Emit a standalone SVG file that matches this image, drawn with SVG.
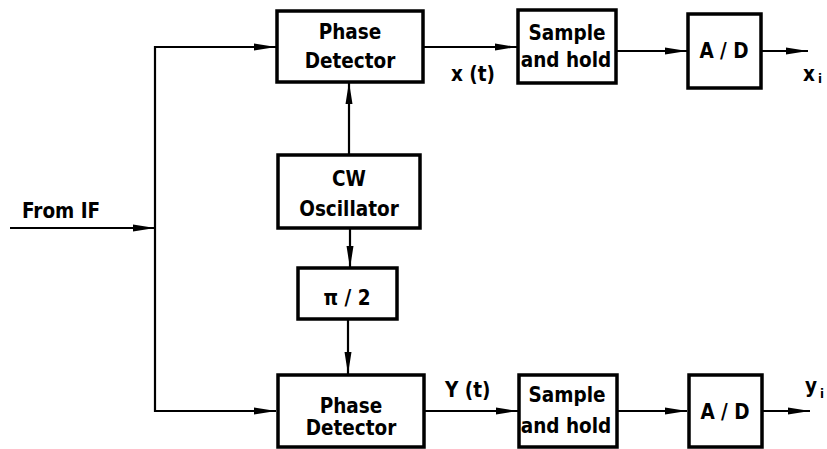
<svg xmlns="http://www.w3.org/2000/svg" width="827" height="449" viewBox="0 0 827 449">
<style>
.box{fill:#fff;stroke:#000;stroke-width:3.5}
.ln{fill:none;stroke:#000;stroke-width:2.2}
text{font-family:"DejaVu Sans Condensed","Liberation Sans Narrow","Liberation Sans",sans-serif;font-size:20.5px;font-weight:bold;fill:#000;text-anchor:middle}
.l{text-anchor:start}
</style>
<defs>
<marker id="ah" markerUnits="userSpaceOnUse" markerWidth="24" markerHeight="10" refX="22" refY="4" orient="auto">
<path d="M0,0.5 L22,4 L0,7.5 z" fill="#000"/>
</marker>
</defs>
<rect width="827" height="449" fill="#fff"/>
<g id="connectors">
<path class="ln" d="M10,228 H155" marker-end="url(#ah)"/>
<path class="ln" d="M155,228 V47 H276" marker-end="url(#ah)"/>
<path class="ln" d="M155,228 V411 H276" marker-end="url(#ah)"/>
<path class="ln" d="M349,154 V82" marker-end="url(#ah)"/>
<path class="ln" d="M350,228 V268" marker-end="url(#ah)"/>
<path class="ln" d="M348,319 V374" marker-end="url(#ah)"/>
<path class="ln" d="M423,47 H517" marker-end="url(#ah)"/>
<path class="ln" d="M616,51 H687" marker-end="url(#ah)"/>
<path class="ln" d="M761,51 H808" marker-end="url(#ah)"/>
<path class="ln" d="M424,411 H518" marker-end="url(#ah)"/>
<path class="ln" d="M617,411 H687" marker-end="url(#ah)"/>
<path class="ln" d="M762,411 H810" marker-end="url(#ah)"/>
</g>
<g id="from-if"><text class="l" x="22" y="218">From IF</text></g>
<g id="pd-top">
<rect class="box" x="277" y="11" width="146" height="71"/>
<text x="350" y="39">Phase</text><text x="350" y="68">Detector</text>
</g>
<g id="cw-osc">
<rect class="box" x="278" y="155" width="142" height="73"/>
<text x="349" y="186">CW</text><text x="349" y="216">Oscillator</text>
</g>
<g id="pi2">
<rect class="box" x="298" y="268" width="99" height="51"/>
<text x="347" y="305">π / 2</text>
</g>
<g id="pd-bottom">
<rect class="box" x="278" y="375" width="146" height="72"/>
<text x="351" y="413">Phase</text><text x="351" y="435">Detector</text>
</g>
<g id="sh-top">
<rect class="box" x="518" y="10" width="98" height="73"/>
<text x="567" y="40">Sample</text><text x="566" y="67">and hold</text>
</g>
<g id="ad-top">
<rect class="box" x="688" y="14" width="73" height="74"/>
<text x="724" y="58">A / D</text>
</g>
<g id="sh-bottom">
<rect class="box" x="519" y="375" width="98" height="72"/>
<text x="567" y="402">Sample</text><text x="566" y="433">and hold</text>
</g>
<g id="ad-bottom">
<rect class="box" x="689" y="375" width="73" height="72"/>
<text x="725" y="419">A / D</text>
</g>
<g id="labels">
<text class="l" x="451" y="81">x (t)</text>
<text class="l" x="445" y="397">Y (t)</text>
<text class="l" x="803" y="81">x<tspan font-size="13" dx="3" dy="2">i</tspan></text>
<text class="l" x="805" y="393">y<tspan font-size="13" dx="3" dy="5">i</tspan></text>
</g>
</svg>
